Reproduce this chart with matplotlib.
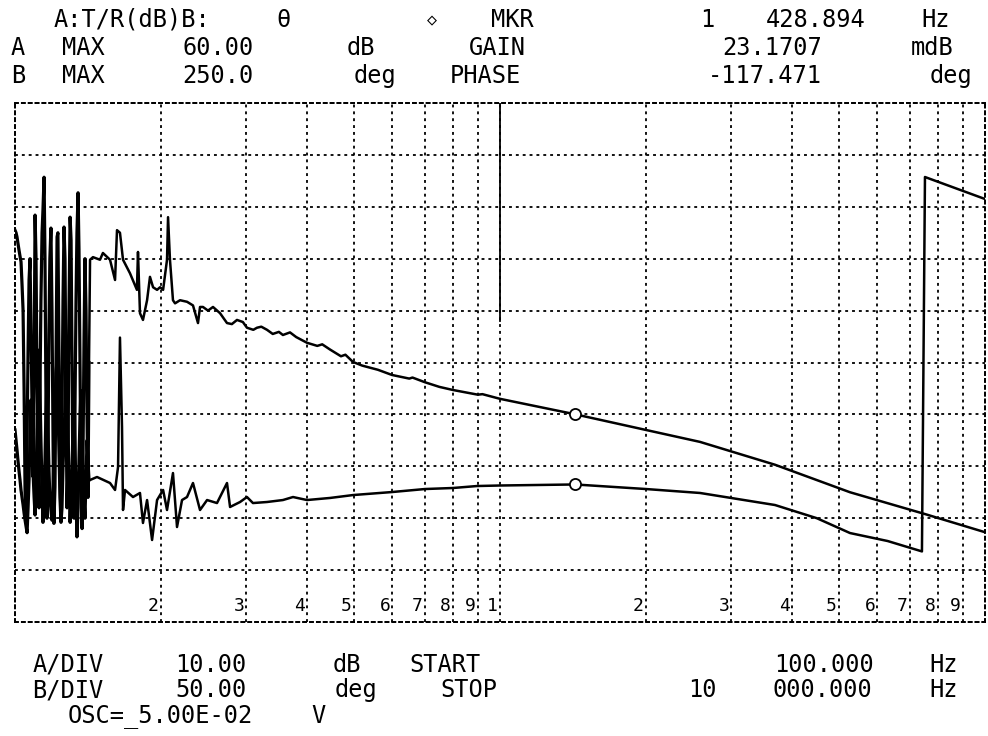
import matplotlib
matplotlib.use("Agg")
import matplotlib.pyplot as plt

# -----------------------------------------------------------#
# Data (log sweep 100 Hz .. 10 kHz)
# -----------------------------------------------------------#
# dense noisy start of the sweep, both traces share the points
freq_lo = [100.0, 100.5, 100.95, 101.4, 101.9, 102.4, 102.9, 103.4, 103.9, 104.4,
           104.9, 105.4, 105.9, 106.4, 106.9, 107.4, 107.9, 108.4, 108.9, 109.5,
           110.0, 110.5, 111.0, 111.6, 112.1, 112.6, 113.1, 113.7, 114.2, 114.8,
           115.3, 115.8, 116.4, 116.9, 117.5, 118.0, 118.6, 119.2, 119.8, 120.3,
           120.9, 121.5, 122.1, 122.6, 123.2, 123.8, 124.4, 125.0, 125.6, 126.2,
           126.8, 127.4, 128.0, 128.6, 129.2, 129.9, 130.5, 131.1, 131.7, 132.4,
           133.0, 133.6, 134.2, 134.9, 135.5, 136.2, 136.8, 137.5, 138.1, 138.8,
           139.4, 140.1, 140.8, 141.4, 142.1]
gain_lo = [35.5, 35.0, 34.2, 33.0, 31.7, 30.5, 29.4, 25.0, 20.1, 5.0,
           -15.0, -20.0, -5.0, 12.4, 25.9, 30.0, 16.3, 2.0, -12.0, 10.0,
           38.4, 30.0, 6.6, -10.0, -18.0, 5.0, 22.0, 35.0, 39.4, 45.7,
           30.0, 5.0, -20.0, -8.0, 16.3, 30.0, 35.9, 20.0, -5.0, -21.0,
           -14.0, 10.0, 34.2, 35.0, 12.4, -12.0, -20.0, 0.0, 22.0, 36.1,
           30.0, 5.0, -18.0, -10.0, 20.0, 38.0, 33.6, 10.0, -16.0, -20.0,
           2.8, 22.0, 35.0, 42.7, 31.7, 8.0, -15.0, -22.0, -8.0, 15.0,
           30.0, 20.0, -1.1, -16.0, 10.0]
phase_lo = [-65, -75, -84, -94, -104, -113, -123, -130, -137, -145,
            -152, -158, -164, -140, -113, -70, -36, -60, -104, -130,
            -147, -120, -65, -20, 12, -30, -75, -120, -154, -130,
            -94, -50, -17, -60, -104, -130, -142, -152, -120, -80,
            -55, -10, 2, -40, -84, -130, -154, -140, -100, -75,
            -40, 12, -20, -65, -110, -154, -130, -104, -60, -36,
            -80, -130, -168, -140, -94, -50, -27, -70, -104, -132,
            -150, -110, -75, -95, -113]

# trace A : T/R gain (dB)
freq_gain = [142.8, 144.8, 149.7, 151.8, 157.0, 160.8, 162.3, 164.6, 167.0, 172.6,
             178.4, 179.3, 181.0, 183.6, 187.2, 189.8, 192.6, 196.3, 199.1, 202.0,
             205.8, 206.8, 208.7, 211.7, 213.8, 218.9, 226.3, 232.8, 238.4, 240.7,
             244.1, 250.0, 256.0, 264.7, 273.6, 280.0, 286.9, 295.0, 300.8, 310.0,
             315.5, 322.0, 330.8, 340.0, 350.0, 356.8, 369.0, 380.0, 400.0, 420.0,
             430.0, 446.2, 470.0, 480.0, 497.7, 520.0, 539.5, 560.0, 598.7, 650.0,
             660.0, 700.0, 750.0, 800.0, 900.0, 920.0, 1000.0, 1428.9, 2000.0, 2585.0,
             3690.0, 5268.0, 7520.0, 10000.0]
gain_db = [29.8, 30.3, 29.8, 31.1, 29.8, 25.9, 35.5, 35.0, 29.8, 27.2,
           24.0, 31.3, 19.5, 18.2, 22.0, 26.5, 24.5, 24.0, 24.5, 24.0,
           29.8, 38.0, 29.8, 22.0, 21.4, 22.0, 21.7, 21.0, 17.6, 20.7,
           20.7, 20.0, 20.7, 19.5, 17.6, 17.4, 18.2, 17.8, 16.7, 16.3,
           16.7, 16.9, 16.3, 15.5, 15.9, 15.3, 15.8, 14.9, 13.8, 13.2,
           13.5, 12.5, 11.2, 11.5, 10.1, 9.4, 9.0, 8.6, 7.6, 6.9,
           7.1, 6.2, 5.3, 4.7, 3.8, 3.9, 3.0, 0.02, -3.0, -5.3,
           -9.7, -15.0, -19.2, -22.7]

# trace B : phase (deg), as displayed (wraps at -180)
freq_phase = [142.8, 147.6, 157.0, 160.8, 163.1, 164.6, 166.2, 167.0, 168.6, 175.1,
              181.0, 183.6, 187.2, 191.7, 196.3, 202.0, 205.8, 211.7, 215.8, 221.0,
              226.3, 232.8, 240.7, 248.9, 260.9, 273.6, 277.6, 291.1, 300.8, 309.5,
              330.8, 356.8, 374.3, 400.0, 446.2, 497.7, 598.7, 700.0, 800.0, 897.0,
              1000.0, 1428.9, 2000.0, 2585.0, 3690.0, 4500.0, 5268.0, 6300.0, 7413.0, 7520.0,
              10000.0]
phase_deg = [-113.2, -110.3, -116.1, -122.8, -100.7, 24.0, -62.1, -142.1, -122.8, -129.6,
             -125.7, -154.6, -132.5, -171.0, -132.5, -122.8, -142.1, -106.5, -158.5, -132.5,
             -129.6, -116.1, -142.1, -132.5, -135.4, -116.1, -139.2, -134.4, -129.6, -135.4,
             -134.4, -132.5, -129.6, -132.5, -130.5, -127.7, -124.8, -121.9, -120.9, -119.0,
             -118.5, -117.5, -121.9, -125.7, -137.3, -150.0, -164.3, -172.0, -182.0, 178.7,
             157.5]

mkr_freq = 1428.894
mkr_gain = 0.0231707
mkr_phase = -117.471

grid_freq = [200, 300, 400, 500, 600, 700, 800, 900, 1000,
             2000, 3000, 4000, 5000, 6000, 7000, 8000, 9000]
grid_lbl = ["2", "3", "4", "5", "6", "7", "8", "9", "1",
            "2", "3", "4", "5", "6", "7", "8", "9"]
grid_db = [-30, -20, -10, 0, 10, 20, 30, 40, 50]

# -----------------------------------------------------------#
# Figure
# -----------------------------------------------------------#
W, H = 988, 736
fig = plt.figure(figsize=(W/100, H/100), dpi=100)
fig.patch.set_facecolor("white")
ax = fig.add_axes([15/W, 1-622/H, 970/W, 519/H])
ax2 = ax.twinx()

dots = (0, (1.6, 2.2))
ax.set_xscale("log")
ax.set_xlim(100, 10000)
ax.set_ylim(-40, 60)
ax2.set_ylim(-250, 250)

for f in grid_freq:
    ax.axvline(f, color="black", lw=1.3, ls=dots, zorder=1)
for d in grid_db:
    ax.axhline(d, color="black", lw=1.3, ls=dots, zorder=1)
# 1 kHz line is drawn solid in its upper part on the plotter
ax.axvline(1000, ymin=0.58, ymax=1.0, color="black", lw=1.3, zorder=1)

for a in (ax, ax2):
    a.tick_params(which="both", length=0, labelbottom=False, labelleft=False,
                  labelright=False)
    a.xaxis.set_minor_locator(matplotlib.ticker.NullLocator())
    for s in a.spines.values():
        s.set_linestyle(dots)
        s.set_linewidth(1.3)

# noisy start drawn heavier, like the plotter pen piling up ink
ax.plot(freq_lo, gain_lo, color="black", lw=2.3, zorder=3)
ax2.plot(freq_lo, phase_lo, color="black", lw=2.3, zorder=3)
ax.plot(freq_lo[-1:] + freq_gain, gain_lo[-1:] + gain_db, color="black", lw=1.8, zorder=3)
ax2.plot(freq_lo[-1:] + freq_phase, phase_lo[-1:] + phase_deg, color="black", lw=1.8, zorder=3)
ax.plot([mkr_freq], [mkr_gain], "o", ms=8, mfc="white", mec="black", mew=1.3, zorder=4)
ax2.plot([mkr_freq], [mkr_phase], "o", ms=8, mfc="white", mec="black", mew=1.3, zorder=4)

mono = ["DejaVu Sans Mono", "DejaVu Sans"]
for f, s in zip(grid_freq, grid_lbl):
    ax.annotate(s, xy=(f, 0), xycoords=("data", "axes fraction"),
                xytext=(-1.5, 5), textcoords="offset points",
                ha="right", va="bottom", fontsize=13, family=mono)


def put(x, y, s, size=17):
    fig.text(x/W, 1-y/H, s, ha="center", va="center", fontsize=size, family=mono)


# header
put(132, 20, "A:T/R(dB)B:")
put(283, 20, "θ")
put(432, 20, "◇", size=12)
put(512, 20, "MKR")
put(707, 20, "1")
put(816, 20, "428.894")
put(936, 20, "Hz")

put(18, 48, "A")
put(83, 48, "MAX")
put(218, 48, "60.00")
put(361, 48, "dB")
put(497, 48, "GAIN")
put(772, 48, "23.1707")
put(932, 48, "mdB")

put(18, 76, "B")
put(83, 76, "MAX")
put(218, 76, "250.0")
put(375, 76, "deg")
put(485, 76, "PHASE")
put(765, 76, "-117.471")
put(951, 76, "deg")

# footer
put(68, 665, "A/DIV")
put(211, 665, "10.00")
put(347, 665, "dB")
put(445, 665, "START")
put(824, 665, "100.000")
put(944, 665, "Hz")

put(68, 690, "B/DIV")
put(211, 690, "50.00")
put(356, 690, "deg")
put(469, 690, "STOP")
put(702, 690, "10")
put(822, 690, "000.000")
put(944, 690, "Hz")

put(160, 716, "OSC=_5.00E-02")
put(318, 716, "V")

fig.savefig("out.png", dpi=100, facecolor="white")
